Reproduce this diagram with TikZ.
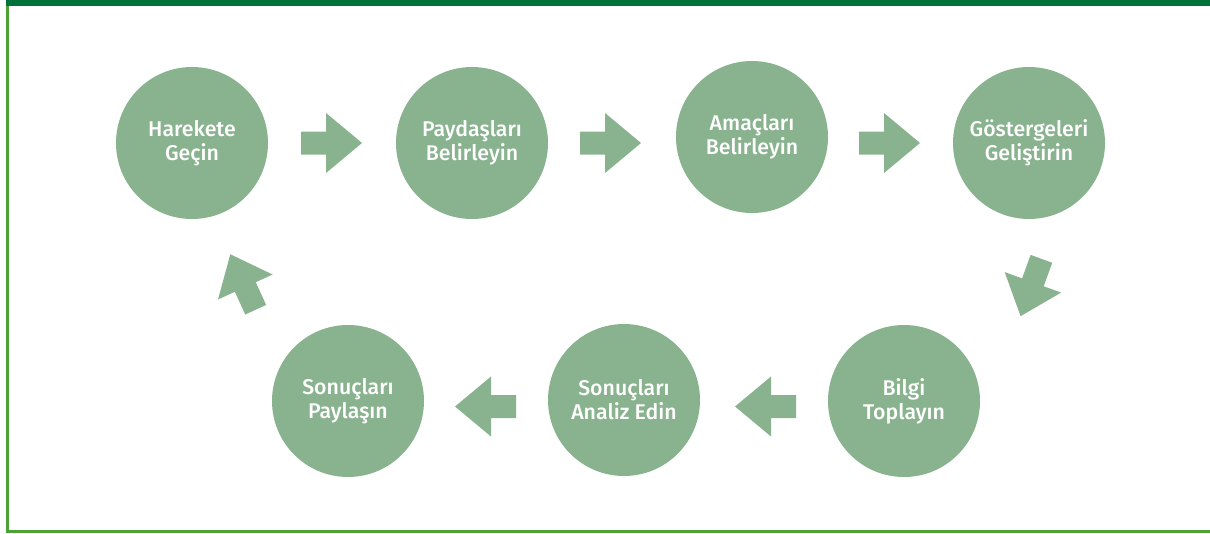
\documentclass[tikz,border=0pt]{standalone}
\usepackage{fontspec}
\newfontfamily\lblfont{Fira Sans Medium}
\definecolor{circfill}{HTML}{88B38E}
\definecolor{topbar}{HTML}{00723B}
\definecolor{frameg}{HTML}{4BA336}
\tikzset{
  stepcircle/.style={circle, fill=circfill, minimum size=152pt, inner sep=0pt,
    text=white, align=center, font=\lblfont\fontsize{21.3}{24}\selectfont},
  blockarrow/.pic={\fill[circfill] (-30.5,-11.5) -- (-5.5,-11.5) -- (-5.5,-30) -- (30.5,0) -- (-5.5,30) -- (-5.5,11.5) -- (-30.5,11.5) -- cycle;}
}
\begin{document}
\begin{tikzpicture}[x=1pt,y=1pt]
\useasboundingbox (0,0) rectangle (1210,-533);
% frame
\fill[frameg] (6,-6) rectangle (9,-533);
\fill[frameg] (6,-530) rectangle (1210,-533);
\fill[topbar] (6,0) rectangle (1210,-6);
% circles
\node[stepcircle] (c1) at (192,-143) {Harekete\\Geçin};
\node[stepcircle] (c2) at (472,-143) {Paydaşları\\Belirleyin};
\node[stepcircle] (c3) at (752,-137) {Amaçları\\Belirleyin};
\node[stepcircle] (c4) at (1029,-143) {Göstergeleri\\Geliştirin};
\node[stepcircle] (c5) at (904,-401) {Bilgi\\Toplayın};
\node[stepcircle] (c6) at (624,-400) {Sonuçları\\Analiz Edin};
\node[stepcircle] (c7) at (348,-401) {Sonuçları\\Paylaşın};
% arrows
\pic at (331.5,-143) {blockarrow};
\pic at (610.5,-143) {blockarrow};
\pic at (889.5,-143) {blockarrow};
\pic[rotate=250] at (1031,-287.5) {blockarrow};
\pic[rotate=180] at (765.5,-406.5) {blockarrow};
\pic[rotate=180] at (485.5,-406.5) {blockarrow};
\pic[rotate=114.6] at (243,-282) {blockarrow};
\end{tikzpicture}
\end{document}
